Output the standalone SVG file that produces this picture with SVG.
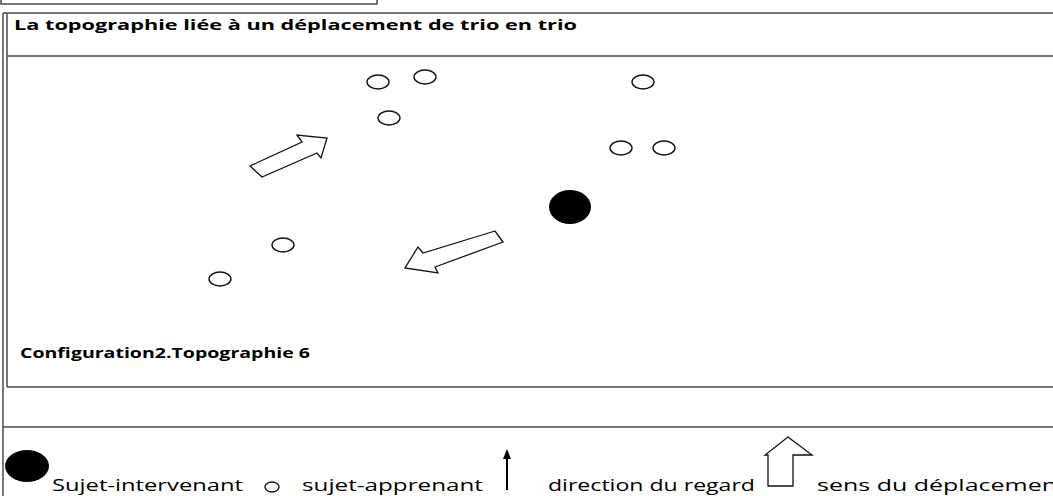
<svg xmlns="http://www.w3.org/2000/svg" width="1053" height="496" viewBox="0 0 1053 496">
<style>
.frame{stroke:#4a4a4a;stroke-width:1.5;fill:none}
.learner{fill:#fff;stroke:#111;stroke-width:1.4}
.leader{fill:#000}
.move{fill:#fff;stroke:#111;stroke-width:1.3;stroke-linejoin:miter}
.title{font-family:"Open Sans","Liberation Sans",sans-serif;font-weight:bold;font-size:14px;fill:#000}
.legend{font-family:"Open Sans","Liberation Sans",sans-serif;font-size:15.5px;fill:#000}
</style>
<rect width="1053" height="496" fill="#fff"/>
<g id="frame">
<path class="frame" d="M1,0 V4 H377 V0"/>
<path class="frame" d="M3,13 V496"/>
<path class="frame" d="M7,13 V387"/>
<path class="frame" d="M3,13 H1053"/>
<path class="frame" d="M7,56 H1053"/>
<path class="frame" d="M7,387 H1053"/>
<path class="frame" d="M3,427 H1053"/>
</g>
<g id="header">
<text class="title" x="14" y="30" textLength="563" lengthAdjust="spacingAndGlyphs">La topographie liée à un déplacement de trio en trio</text>
</g>
<g id="caption">
<text class="title" x="20" y="358" textLength="290" lengthAdjust="spacingAndGlyphs">Configuration2.Topographie 6</text>
</g>
<g id="learner-1"><ellipse class="learner" cx="378" cy="82" rx="11" ry="7"/></g>
<g id="learner-2"><ellipse class="learner" cx="425" cy="77" rx="11" ry="7"/></g>
<g id="learner-3"><ellipse class="learner" cx="389" cy="118" rx="11" ry="7"/></g>
<g id="learner-4"><ellipse class="learner" cx="643" cy="82" rx="11" ry="7"/></g>
<g id="learner-5"><ellipse class="learner" cx="621" cy="148" rx="11" ry="7"/></g>
<g id="learner-6"><ellipse class="learner" cx="664" cy="148" rx="11" ry="7"/></g>
<g id="learner-7"><ellipse class="learner" cx="283" cy="245" rx="11" ry="7"/></g>
<g id="learner-8"><ellipse class="learner" cx="220" cy="279" rx="11" ry="7"/></g>
<g id="leader"><ellipse class="leader" cx="570" cy="207" rx="21" ry="17"/></g>
<g id="connectors">
<polygon class="move" points="250,166 302,142 297,135 327,138 321,158 317,153 262,177"/>
<polygon class="move" points="495,231 423,253 418,247 405,268 438,273 435,267 503,242"/>
</g>
<g id="legend">
<ellipse class="leader" cx="27" cy="466" rx="22" ry="16"/>
<text class="legend" x="52" y="491" textLength="191" lengthAdjust="spacingAndGlyphs">Sujet-intervenant</text>
<ellipse class="learner" cx="272" cy="487" rx="7" ry="5"/>
<text class="legend" x="302" y="491" textLength="181" lengthAdjust="spacingAndGlyphs">sujet-apprenant</text>
<line x1="507" y1="490" x2="507" y2="456" stroke="#000" stroke-width="2"/>
<polygon points="503,459 507,449 511,459" fill="#000"/>
<text class="legend" x="548" y="491" textLength="207" lengthAdjust="spacingAndGlyphs">direction du regard</text>
<polygon class="move" points="788,437 812,455 793,455 793,486 768,486 768,455 765,455"/>
<text class="legend" x="817" y="491" textLength="240" lengthAdjust="spacingAndGlyphs">sens du déplacemen</text>
</g>
</svg>
